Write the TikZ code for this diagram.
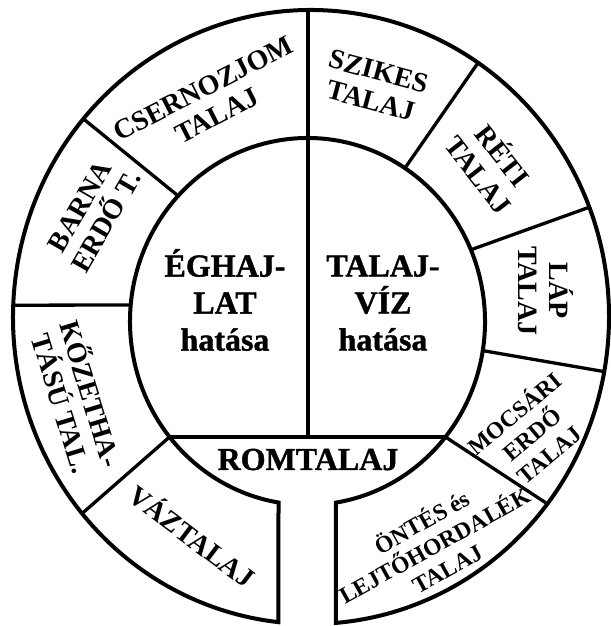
\documentclass[tikz,border=0pt]{standalone}
\usepackage{fontspec}
\setmainfont{Liberation Serif}
\newfontfamily\heavyfont{Liberation Serif Bold}[FakeBold=1.2]
\usetikzlibrary{calc}
\begin{document}
\begin{tikzpicture}[x=1pt,y=1pt,
  ring/.style={line width=4pt,line join=miter},
  divider/.style={line width=3.3pt},
  lbl/.style={font=\bfseries\fontsize{28}{30.5}\selectfont, align=center, inner sep=0pt},
  lblsmall/.style={font=\bfseries\fontsize{23.5}{26.5}\selectfont, align=center, inner sep=0pt},
  centretext/.style={font=\heavyfont\fontsize{32}{37}\selectfont, align=center, inner sep=0pt}]
\useasboundingbox (0,0) rectangle (610,626);
\coordinate (O) at (311,309);
\coordinate (I) at (307.5,304.5);
% points on the two ellipses
\path (I) ++(279.2:177.5pt and 183.5pt) coordinate (ibr);
\path (I) ++(260.6:177.5pt and 183.5pt) coordinate (ibl);
\path (O) ++(263.7:298pt and 307pt) coordinate (obl);
\path (O) ++(274.8:298pt and 307pt) coordinate (obr);
\path (O) ++(90.6:298pt and 307pt) coordinate (otop);
\path (I) ++(219:177.5pt and 183.5pt) coordinate (hl);
\path (I) ++(321:177.5pt and 183.5pt) coordinate (hr);
\path (O) ++(55.9:298pt and 307pt) coordinate (o2);
\path (I) ++(56.7:177.5pt and 183.5pt) coordinate (i2);
\path (O) ++(20.95:298pt and 307pt) coordinate (o3);
\path (I) ++(23.0:177.5pt and 183.5pt) coordinate (i3);
\path (O) ++(-10.25:298pt and 307pt) coordinate (o4);
\path (I) ++(-9.13:177.5pt and 183.5pt) coordinate (i4);
\path (O) ++(-37.5:298pt and 307pt) coordinate (o5);
\path (O) ++(219.8:298pt and 307pt) coordinate (o6);
\path (O) ++(177.8:298pt and 307pt) coordinate (o7);
\path (I) ++(174.84:177.5pt and 183.5pt) coordinate (i7);
\path (O) ++(139.8:298pt and 307pt) coordinate (o8);
\path (I) ++(136.8:177.5pt and 183.5pt) coordinate (i8);
% ring outline, open at the bottom
\draw[ring] (ibr)
  arc[start angle=279.2, end angle=620.6, x radius=177.5pt, y radius=183.5pt]
  -- (obl)
  arc[start angle=623.7, end angle=274.8, x radius=298pt, y radius=307pt]
  -- cycle;
% dividers
\draw[divider] (hl) -- (hr);
\draw[divider] (otop) -- (otop |- hl);
\draw[divider] (o2) -- (i2);
\draw[divider] (o3) -- (i3);
\draw[divider] (o4) -- (i4);
\draw[divider] (o5) -- (hr);
\draw[divider] (o6) -- (hl);
\draw[divider] (o7) -- (i7);
\draw[divider] (o8) -- (i8);
% centre texts
\node[centretext] (eghajlat) at (225,326) {ÉGHAJ-\\LAT\\hatása};
\node[centretext] (talajviz) at (383,323) {TALAJ-\\VÍZ\\hatása};
\node[inner sep=0pt, anchor=base, font=\heavyfont\fontsize{32}{34}\selectfont] (rom) at (308,156) {ROMTALAJ};
% ring labels
\node[lbl, rotate=27] (csern) at (210,524) {CSERNOZJOM\\TALAJ};
\node[lbl, rotate=-15] (szikes) at (375,540) {SZIKES\\TALAJ};
\node[lbl, rotate=-52] (reti) at (492,462) {RÉTI\\TALAJ};
\node[lbl, rotate=-90] (lap) at (546,335) {LÁP\\TALAJ};
\node[lblsmall, rotate=40] (mocsari) at (531,193) {MOCSÁRI\\ERDŐ\\TALAJ};
\node[lblsmall, rotate=29] (ontes) at (434,82) {ÖNTÉS és\\LEJTŐHORDALÉK\\TALAJ};
\node[lbl, rotate=-37] (vaz) at (193,91) {VÁZTALAJ};
\node[lbl, rotate=-73] (kozet) at (78,228) {KŐZETHA-\\TÁSÚ TAL.};
\node[lbl, rotate=60] (barna) at (93,412) {BARNA\\ERDŐ T.};
\end{tikzpicture}
\end{document}
